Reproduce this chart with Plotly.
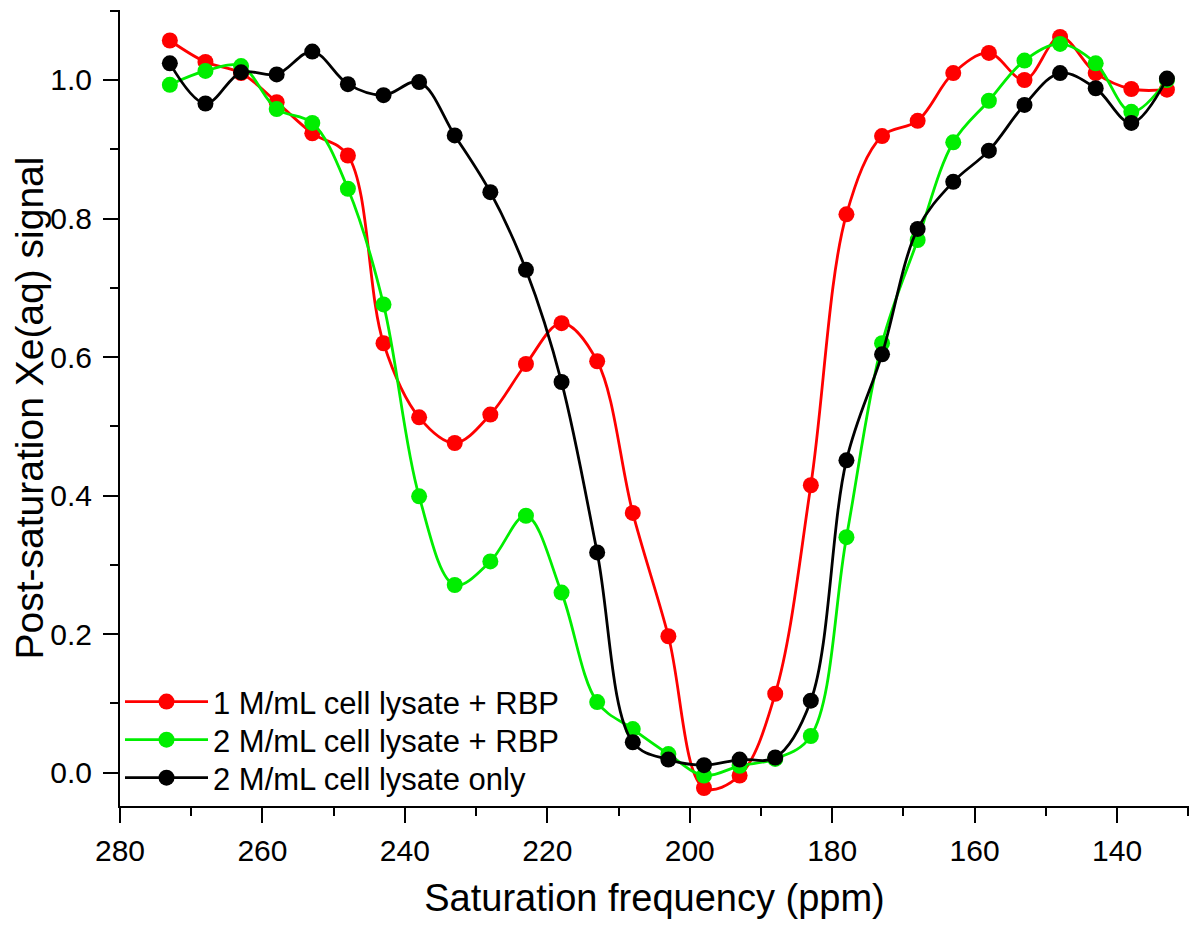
import plotly.graph_objects as go

freq = [273, 268, 263, 258, 253, 248, 243, 238, 233, 228, 223, 218, 213, 208, 203,
        198, 193, 188, 183, 178, 173, 168, 163, 158, 153, 148, 143, 138, 133]

red_1M_rbp = [1.057, 1.026, 1.010, 0.968, 0.923, 0.891, 0.620, 0.513, 0.476, 0.517,
              0.590, 0.649, 0.594, 0.375, 0.197, -0.022, -0.004, 0.114, 0.415, 0.806,
              0.919, 0.941, 1.010, 1.039, 1.000, 1.062, 1.010, 0.987, 0.986]

green_2M_rbp = [0.993, 1.013, 1.020, 0.958, 0.938, 0.843, 0.676, 0.399, 0.271, 0.305,
                0.371, 0.260, 0.102, 0.063, 0.027, -0.004, 0.010, 0.020, 0.053, 0.340,
                0.620, 0.769, 0.910, 0.970, 1.028, 1.052, 1.024, 0.954, 1.000]

black_2M_only = [1.024, 0.966, 1.011, 1.008, 1.041, 0.994, 0.978, 0.997, 0.920, 0.838,
                 0.726, 0.564, 0.318, 0.044, 0.019, 0.011, 0.019, 0.022, 0.104, 0.451,
                 0.604, 0.785, 0.853, 0.898, 0.964, 1.010, 0.988, 0.938, 1.002]

series_names = ["1 M/mL cell lysate + RBP", "2 M/mL cell lysate + RBP", "2 M/mL cell lysate only"]
series_values = [red_1M_rbp, green_2M_rbp, black_2M_only]
series_colors = ["#FF0000", "#00EE00", "#000000"]
legend_ids = ["legend", "legend2", "legend3"]

x_ticks = [280, 260, 240, 220, 200, 180, 160, 140]
y_ticks = [0.0, 0.2, 0.4, 0.6, 0.8, 1.0]

FONT = "Liberation Sans, Arial, sans-serif"

fig = go.Figure()
for name, vals, col, lg in zip(series_names, series_values, series_colors, legend_ids):
    fig.add_trace(go.Scatter(
        x=freq, y=vals, name=name, mode="lines+markers",
        line=dict(color=col, width=2.8, shape="spline", smoothing=1.0),
        marker=dict(color=col, size=16, line=dict(width=0)),
        legend=lg,
    ))

axis_common = dict(
    showline=True, linecolor="black", linewidth=2,
    ticks="outside", ticklen=15, tickwidth=2, tickcolor="black",
    showgrid=False, zeroline=False, mirror=False,
    tickfont=dict(family=FONT, size=30, color="black"),
)

def legend_box(yc):
    return dict(
        x=0.0, y=yc, xanchor="left", yanchor="middle",
        bgcolor="rgba(0,0,0,0)", borderwidth=0,
        font=dict(family=FONT, size=31, color="black"),
        tracegroupgap=0, itemwidth=83,
    )

# page body has an 8px margin, so the figure is shifted by 8px right/down
fig.update_layout(
    width=1200, height=932,
    margin=dict(l=112, r=19, t=2, b=134),
    paper_bgcolor="white", plot_bgcolor="white",
    font=dict(family=FONT, color="black"),
    xaxis=dict(
        range=[280.0, 129.9], tickvals=x_ticks, ticktext=[str(v) for v in x_ticks],
        minor=dict(dtick=10, tick0=0, ticks="outside", ticklen=8, tickwidth=2, tickcolor="black"),
        ticklabelstandoff=2,
        title=dict(text="Saturation frequency (ppm)", font=dict(family=FONT, size=38, color="black"), standoff=18),
        **axis_common,
    ),
    yaxis=dict(
        range=[-0.048, 1.101], tickvals=y_ticks, ticktext=[f"{v:.1f}" for v in y_ticks],
        minor=dict(dtick=0.1, tick0=0, ticks="outside", ticklen=8, tickwidth=2, tickcolor="black"),
        ticklabelstandoff=5,
        title=dict(text="Post-saturation Xe(aq) signal", font=dict(family=FONT, size=39, color="black"), standoff=4),
        **axis_common,
    ),
    legend=legend_box(0.1307),
    legend2=legend_box(0.0829),
    legend3=legend_box(0.0352),
    showlegend=True,
)

fig.write_html("out.html")
